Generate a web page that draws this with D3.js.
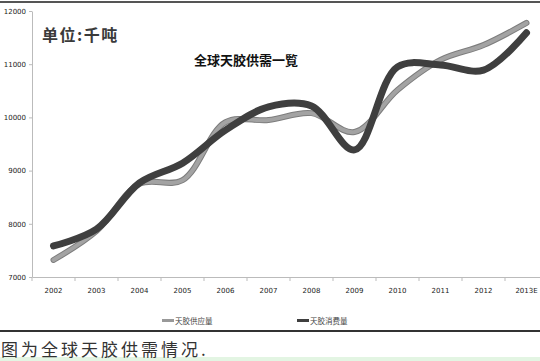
<!DOCTYPE html>
<html>
<head>
<meta charset="utf-8">
<script src="https://cdn.jsdelivr.net/npm/d3@7"></script>
<style>
body { margin: 0; background: #fff; }
svg { display: block; font-family: "Noto Sans CJK SC", "DejaVu Sans", sans-serif; }
</style>
</head>
<body>
<div id="chart"></div>
<script>
var width = 540;
var height = 361;

var years = ['2002', '2003', '2004', '2005', '2006', '2007', '2008', '2009', '2010', '2011', '2012', '2013E'];
var supply = [7320, 7865, 8750, 8820, 9910, 9950, 10080, 9725, 10515, 11080, 11360, 11775];
var consumption = [7583, 7900, 8770, 9140, 9760, 10200, 10215, 9390, 10950, 10985, 10890, 11590];
var y_ticks = [7000, 8000, 9000, 10000, 11000, 12000];
var series_names = ['天胶供应量', '天胶消费量'];

var svg = d3.select("#chart").append("svg").attr('width', width).attr('height', height);

// frame lines top and bottom
svg.append('rect').attr('x', 0).attr('y', 1).attr('width', width).attr('height', 2).attr('fill', '#555');
svg.append('rect').attr('x', 0).attr('y', 330).attr('width', width).attr('height', 2).attr('fill', '#333');
svg.append('rect').attr('x', 0).attr('y', 357).attr('width', width).attr('height', 4).attr('fill', '#e3f5e3');

var x = d3.scaleBand().domain(years).range([32, 548]);
var y = d3.scaleLinear().domain([7000, 12000]).range([277, 11]);

// y axis
var yAxis = svg.append('g').attr('transform', 'translate(32,0)')
    .call(d3.axisLeft(y).tickValues(y_ticks).tickFormat(d3.format('d')).tickSize(3).tickSizeOuter(0));
yAxis.select('.domain').attr('stroke', '#bbb');
yAxis.selectAll('line').attr('stroke', '#bbb');
yAxis.selectAll('text').attr('fill', '#222').style('font-size', '7px').attr('font-family', 'DejaVu Sans');

// x axis
var xAxis = svg.append('g').attr('transform', 'translate(0,277)')
    .call(d3.axisBottom(x).tickSize(0).tickSizeOuter(0).tickPadding(11));
xAxis.select('.domain').attr('stroke', '#bbb');
xAxis.selectAll('text').attr('fill', '#222').style('font-size', '7px').attr('font-family', 'DejaVu Sans');
// tick marks between categories
xAxis.selectAll('.sep').data(years).enter().append('line')
    .attr('x1', d => x(d)).attr('x2', d => x(d))
    .attr('y1', 0).attr('y2', 4)
    .attr('stroke', '#bbb');

var line = d3.line()
    .x((d, i) => x(years[i]) + x.bandwidth() / 2)
    .y(d => y(d))
    .curve(d3.curveCatmullRom.alpha(0.5));

svg.append('path').attr('d', line(supply))
    .attr('fill', 'none').attr('stroke', '#7d7d7d').attr('stroke-width', 6)
    .attr('stroke-linecap', 'round').attr('stroke-linejoin', 'round');
svg.append('path').attr('d', line(supply))
    .attr('fill', 'none').attr('stroke', '#a3a3a3').attr('stroke-width', 4)
    .attr('stroke-linecap', 'round').attr('stroke-linejoin', 'round');
svg.append('path').attr('d', line(consumption))
    .attr('fill', 'none').attr('stroke', '#3f3f3f').attr('stroke-width', 7)
    .attr('stroke-linecap', 'round').attr('stroke-linejoin', 'round');

// texts
svg.append('text').attr('x', 42).attr('y', 41).text('单位:千吨')
    .style('font-size', '16px').attr('font-weight', 'bold').attr('letter-spacing', '1.5px').attr('fill', '#3a3a3a');
svg.append('text').attr('x', 246).attr('y', 65).text('全球天胶供需一覧')
    .style('font-size', '13px').attr('font-weight', 'bold').attr('text-anchor', 'middle').attr('fill', '#111');

// legend
var legend_x = [162, 297];
var legend_col = ['#999', '#3f3f3f'];
for (var i = 0; i < 2; i++) {
    svg.append('rect').attr('x', legend_x[i]).attr('y', 319).attr('width', 12).attr('height', 3)
        .attr('fill', legend_col[i]);
    svg.append('text').attr('x', legend_x[i] + 13).attr('y', 324).text(series_names[i])
        .style('font-size', '7.5px').attr('fill', '#444');
}

svg.append('text').attr('x', 1).attr('y', 356).text('图为全球天胶供需情况.')
    .style('font-size', '17px').attr('fill', '#333').attr('letter-spacing', '3px');
</script>
</body>
</html>
